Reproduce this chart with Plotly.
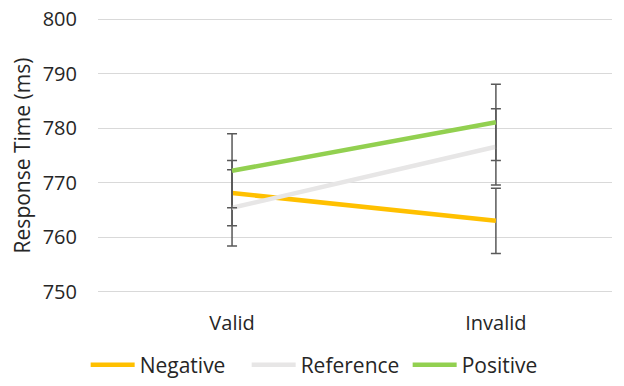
import plotly.graph_objects as go

categories = ["Valid", "Invalid"]
negative = [768.1, 763.0]
negative_err = [6.0, 6.0]
reference = [765.4, 776.6]
reference_err = [7.0, 7.0]
positive = [772.2, 781.1]
positive_err = [6.8, 7.0]
y_ticks = [750, 760, 770, 780, 790, 800]

series = [
    ("Negative", negative, negative_err, "#FFC000"),
    ("Reference", reference, reference_err, "#E7E6E6"),
    ("Positive", positive, positive_err, "#92D050"),
]

fig = go.Figure()
xpos = list(range(len(categories)))
for name, vals, errs, color in series:
    fig.add_trace(go.Scatter(
        x=xpos, y=vals, name=name, mode="lines",
        line=dict(color=color, width=4.5),
        error_y=dict(type="data", array=errs, visible=True,
                     color="#595959", thickness=1.5, width=5),
    ))

font = "Open Sans, Noto Sans, sans-serif"
fig.update_layout(
    width=608, height=370,
    margin=dict(l=90, r=4, t=10, b=85, autoexpand=False),
    plot_bgcolor="white", paper_bgcolor="white",
    font=dict(family=font, size=20, color="#262626"),
    showlegend=True,
    legend=dict(orientation="h", x=-0.024, xanchor="left", y=-0.262, yanchor="middle",
                font=dict(size=21, color="#262626"), itemwidth=44, traceorder="normal",
                entrywidth=102, entrywidthmode="pixels", tracegroupgap=0),
    xaxis=dict(tickmode="array", tickvals=xpos, ticktext=categories,
               range=[-0.508, 1.44], showgrid=False, zeroline=False,
               showline=False, ticks="", tickfont=dict(size=20), automargin=False,
               ticklabelstandoff=16, ticklabeloverflow="allow"),
    yaxis=dict(range=[749.75, 800.25], tickvals=y_ticks, showgrid=True,
               gridcolor="#D9D9D9", gridwidth=1, zeroline=False, showline=False,
               ticks="", ticklabelstandoff=20, tickfont=dict(size=20), automargin=False,
               ticklabeloverflow="allow",
               title=dict(text="Response Time (ms)", font=dict(size=21), standoff=20)),
)
fig.write_html("out.html")
